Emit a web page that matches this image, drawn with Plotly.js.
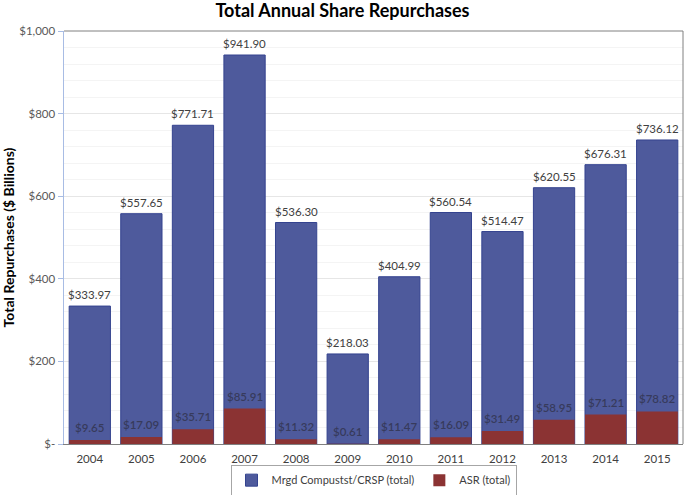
<!DOCTYPE html>
<html><head><meta charset="utf-8">
<script src="https://cdn.plot.ly/plotly-3.0.1.min.js"></script>
<style>html,body{margin:0;padding:0;background:#fff}</style>
</head><body>
<div id="chart" style="width:685px;height:495px"></div>
<script>
var years = ["2004","2005","2006","2007","2008","2009","2010","2011","2012","2013","2014","2015"];
var totalRepurchases = [333.97,557.65,771.71,941.90,536.30,218.03,404.99,560.54,514.47,620.55,676.31,736.12];
var asrRepurchases = [9.65,17.09,35.71,85.91,11.32,0.61,11.47,16.09,31.49,58.95,71.21,78.82];
var yTickVals = [0,200,400,600,800,1000];
var yTickText = ["$-","$200","$400","$600","$800","$1,000"];
var seriesNames = ["Mrgd Compustst/CRSP (total)","ASR (total)"];

function fmt(v){return "$" + v.toFixed(2);}
var lblFont = "Lato, 'Open Sans', sans-serif";

var traces = [
  {type:"bar", x:years, y:totalRepurchases, name:seriesNames[0],
   marker:{color:"#4e5a9c", line:{color:"#34438f", width:1}},
   hoverinfo:"none"},
  {type:"bar", x:years, y:asrRepurchases, name:seriesNames[1],
   marker:{color:"#8b3333", line:{color:"#8b3333", width:0}},
   hoverinfo:"none"}
];

var annotations = [];
years.forEach(function(yr, i){
  annotations.push({x:i, y:totalRepurchases[i], xref:"x", yref:"y", text:fmt(totalRepurchases[i]),
    showarrow:false, yanchor:"bottom", yshift:3,
    font:{family:lblFont, size:11.5, color:"#404040"}});
  annotations.push({x:i, y:asrRepurchases[i], xref:"x", yref:"y", text:fmt(asrRepurchases[i]),
    showarrow:false, yanchor:"bottom", yshift:4,
    font:{family:lblFont, size:11.5, color:"#373b5c", weight:600}});
});

var layout = {
  width:685, height:495,
  margin:{l:64, r:2, t:31, b:51, autoexpand:false},
  paper_bgcolor:"#fff", plot_bgcolor:"#fff",
  barmode:"overlay", bargap:0.2,
  font:{family:lblFont, color:"#595959"},
  title:{text:"<b>Total Annual Share Repurchases</b>", x:0.5, xanchor:"center", y:0.979, yanchor:"middle",
         font:{family:lblFont, size:18, color:"#000"}},
  xaxis:{type:"category", showgrid:false, showline:true, linecolor:"#7f7f7f", linewidth:1, automargin:false,
         ticks:"outside", ticklen:4, tickcolor:"rgba(0,0,0,0)", tickfont:{size:11.5, color:"#404040"}, fixedrange:true},
  yaxis:{range:[0,1000], tickvals:yTickVals, ticktext:yTickText, automargin:false,
         showline:true, linecolor:"#a8bce4", linewidth:1.5, ticks:"outside", ticklen:5, tickcolor:"#a8bce4",
         showgrid:true, gridcolor:"#e6e6e6", zeroline:false,
         minor:{dtick:40, tick0:0, showgrid:true, gridcolor:"#f4f4f4", ticks:""},
         tickfont:{size:11.5, color:"#595959"},
         title:{text:"<b>Total Repurchases ($ Billions)</b>", font:{size:14, color:"#000"}, standoff:8}},
  showlegend:true,
  legend:{orientation:"h", x:0.5, xanchor:"center", y:-0.05, yanchor:"top",
          bordercolor:"#a6a6a6", borderwidth:1, font:{size:11, color:"#404040"},
          tracegroupgap:0},
  annotations:annotations,
  shapes:[
    {type:"line", xref:"paper", yref:"paper", x0:0, x1:1, y0:1, y1:1, line:{color:"#808080", width:1}},
    {type:"line", xref:"paper", yref:"paper", x0:1, x1:1, y0:0, y1:1, line:{color:"#808080", width:1}}
  ]
};

Plotly.newPlot("chart", traces, layout, {displayModeBar:false, staticPlot:true});
</script>
</body></html>
